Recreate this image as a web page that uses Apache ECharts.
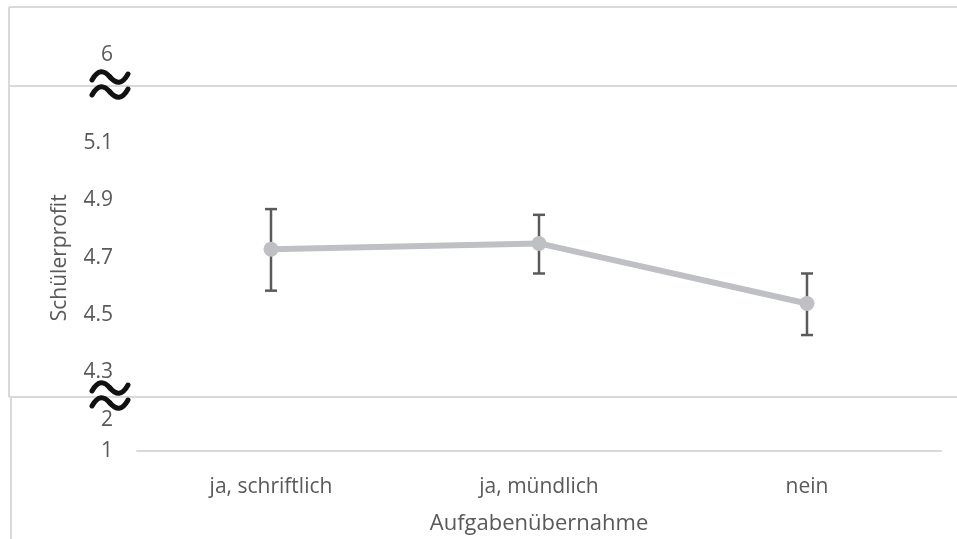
<!DOCTYPE html>
<html>
<head>
<meta charset="utf-8">
<script src="https://cdn.jsdelivr.net/npm/echarts@6/dist/echarts.min.js"></script>
<style>
  html, body { margin: 0; padding: 0; background: #ffffff; }
  #chart { width: 957px; height: 539px; }
</style>
</head>
<body>
<div id="chart"></div>
<script>
// Categories and values
const categories = ['ja, schriftlich', 'ja, mündlich', 'nein'];
const means = [4.73, 4.75, 4.54];
const upperBound = [4.87, 4.85, 4.645];
const lowerBound = [4.585, 4.645, 4.43];

// Tick labels shown on the three pieces of the broken y axis
const topTicks = [6];
const mainTicks = [4.3, 4.5, 4.7, 4.9, 5.1];
const bottomTicks = [1, 2];

const TEXT = '#595959';
const FRAME = '#d9d9d9';
const FONT = '"Open Sans", "Noto Sans", sans-serif';

function pickLabel(list, digits) {
  return function (v) {
    for (const t of list) {
      if (Math.abs(v - t) < 1e-6) return digits ? t.toFixed(digits) : String(t);
    }
    return '';
  };
}

// Break marker: two stacked waves centred on a separator line
function breakMarker(cx, cy) {
  const style = { fill: null, stroke: '#111', lineWidth: 5, lineCap: 'round' };
  const wave = (x0, y0) => [
    { type: 'bezierCurve', z: 100, style,
      shape: { x1: x0, y1: y0 + 9, cpx1: x0 + 6, cpy1: y0 - 2, cpx2: x0 + 12, cpy2: y0 - 1, x2: x0 + 18, y2: y0 + 6 } },
    { type: 'bezierCurve', z: 100, style,
      shape: { x1: x0 + 18, y1: y0 + 6, cpx1: x0 + 24, cpy1: y0 + 13, cpx2: x0 + 30, cpy2: y0 + 14, x2: x0 + 36, y2: y0 + 3 } }
  ];
  const x0 = cx - 18;
  return [...wave(x0, cy - 15), ...wave(x0, cy)];
}

function frameLine(x1, y1, x2, y2) {
  return { type: 'line', shape: { x1, y1, x2, y2 }, style: { stroke: FRAME, lineWidth: 2 }, z: 1 };
}

const hiddenX = (idx) => ({
  type: 'category', gridIndex: idx, data: categories, boundaryGap: true, show: false
});

const chart = echarts.init(document.getElementById('chart'), null, { renderer: 'canvas' });

chart.setOption({
  animation: false,
  backgroundColor: '#ffffff',
  textStyle: { fontFamily: FONT },
  grid: [
    { left: 137, right: 16, top: 24, height: 62 },
    { left: 137, right: 16, top: 86, height: 343.5 },
    { left: 137, right: 16, top: 389, height: 62 }
  ],
  xAxis: [
    hiddenX(0),
    hiddenX(1),
    {
      type: 'category', gridIndex: 2, data: categories, boundaryGap: true,
      axisLine: { lineStyle: { color: FRAME, width: 2 } },
      axisTick: { show: false },
      axisLabel: { color: TEXT, fontSize: 21, fontFamily: FONT, margin: 26 },
      name: 'Aufgabenübernahme', nameLocation: 'middle', nameGap: 62,
      nameTextStyle: { color: TEXT, fontSize: 22, fontFamily: FONT }
    }
  ],
  yAxis: [
    {
      type: 'value', gridIndex: 0, min: 5, max: 7, interval: 1,
      axisLine: { show: false }, axisTick: { show: false }, splitLine: { show: false },
      axisLabel: { color: TEXT, fontSize: 21, fontFamily: FONT, margin: 24, formatter: pickLabel(topTicks, 0) }
    },
    {
      type: 'value', gridIndex: 1, min: 4.1, max: 5.3, interval: 0.2,
      axisLine: { show: false }, axisTick: { show: false }, splitLine: { show: false },
      axisLabel: { color: TEXT, fontSize: 21, fontFamily: FONT, margin: 24, formatter: pickLabel(mainTicks, 1) },
      name: 'Schülerprofit', nameLocation: 'middle', nameGap: 66,
      nameTextStyle: { color: TEXT, fontSize: 21, fontFamily: FONT }
    },
    {
      type: 'value', gridIndex: 2, min: 1, max: 3, interval: 1,
      axisLine: { show: false }, axisTick: { show: false }, splitLine: { show: false },
      axisLabel: { color: TEXT, fontSize: 21, fontFamily: FONT, margin: 24, formatter: pickLabel(bottomTicks, 0) }
    }
  ],
  series: [
    {
      name: 'Fehlerbalken',
      type: 'custom',
      xAxisIndex: 1, yAxisIndex: 1,
      z: 2,
      data: categories.map((c, i) => [i, lowerBound[i], upperBound[i]]),
      renderItem: function (params, api) {
        const lo = api.coord([api.value(0), api.value(1)]);
        const hi = api.coord([api.value(0), api.value(2)]);
        const cap = 6;
        const style = { stroke: '#5a5a5a', lineWidth: 2.5, fill: null };
        return {
          type: 'group',
          children: [
            { type: 'line', shape: { x1: hi[0], y1: hi[1], x2: lo[0], y2: lo[1] }, style },
            { type: 'line', shape: { x1: hi[0] - cap, y1: hi[1], x2: hi[0] + cap, y2: hi[1] }, style },
            { type: 'line', shape: { x1: lo[0] - cap, y1: lo[1], x2: lo[0] + cap, y2: lo[1] }, style }
          ]
        };
      }
    },
    {
      name: 'Schülerprofit',
      type: 'line',
      xAxisIndex: 1, yAxisIndex: 1,
      z: 5,
      data: means,
      symbol: 'circle',
      symbolSize: 15,
      lineStyle: { color: '#bfc0c3', width: 6 },
      itemStyle: { color: '#bfc0c3' }
    }
  ],
  graphic: [
    frameLine(9, 7, 957, 7),
    frameLine(9, 7, 9, 397),
    frameLine(11, 397, 11, 539),
    frameLine(9, 86, 957, 86),
    frameLine(9, 397, 957, 397),
    ...breakMarker(110, 86),
    ...breakMarker(110, 397)
  ]
});
</script>
</body>
</html>
